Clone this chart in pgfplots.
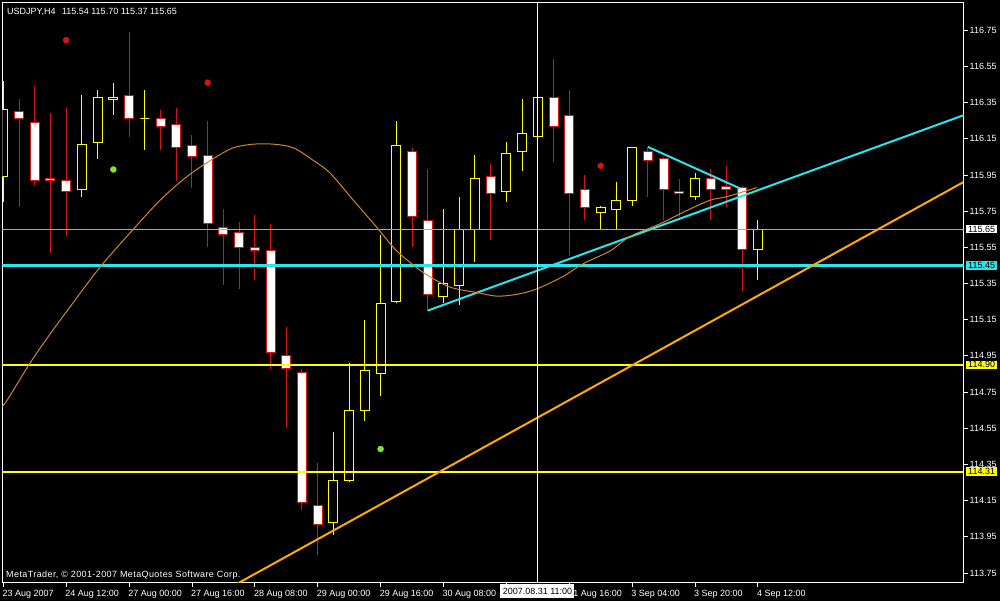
\documentclass[border=0pt]{standalone}
\usepackage{pgfplots}
\usepackage{pgfplotstable}
\usepackage{fontspec}
\setmainfont{Liberation Sans}
\pgfplotsset{compat=1.18}

\definecolor{mtyellow}{RGB}{255,255,0}
\definecolor{mtred}{RGB}{215,20,20}
\definecolor{mtcyan}{RGB}{40,230,235}
\definecolor{mtorange}{RGB}{255,170,0}
\definecolor{mtbrown}{RGB}{205,135,45}
\definecolor{mtgray}{RGB}{170,170,170}
\definecolor{mtlime}{RGB}{130,230,40}

% USDJPY H4: bar, open, high, low, close
\pgfplotstableread{
i o h l c
0 115.94 116.47 115.80 116.31
1 116.30 116.37 115.77 116.26
2 116.24 116.44 115.89 115.92
3 115.93 116.29 115.52 115.92
4 115.92 116.32 115.61 115.86
5 115.87 116.39 115.83 116.12
6 116.13 116.42 116.04 116.38
7 116.365 116.46 116.28 116.38
8 116.39 116.74 116.16 116.26
9 116.26 116.42 116.09 116.26
10 116.26 116.31 116.09 116.22
11 116.23 116.32 115.92 116.10
12 116.11 116.17 115.88 116.05
13 116.06 116.25 115.55 115.68
14 115.66 115.76 115.34 115.62
15 115.63 115.69 115.32 115.55
16 115.55 115.73 115.37 115.53
17 115.53 115.68 114.88 114.97
18 114.95 115.11 114.55 114.88
19 114.86 114.88 114.10 114.14
20 114.12 114.36 113.85 114.02
21 114.03 114.53 113.96 114.26
22 114.26 114.91 114.25 114.65
23 114.65 115.15 114.59 114.87
24 114.85 115.62 114.73 115.24
25 115.25 116.25 115.24 116.11
26 116.08 116.10 115.55 115.72
27 115.70 115.98 115.20 115.29
28 115.28 115.76 115.24 115.35
29 115.34 115.83 115.23 115.65
30 115.65 116.06 115.47 115.93
31 115.94 116.01 115.59 115.85
32 115.86 116.13 115.80 116.07
33 116.08 116.37 115.97 116.18
34 116.16 116.38 116.15 116.38
35 116.38 116.59 116.02 116.22
36 116.28 116.42 115.50 115.85
37 115.87 115.95 115.70 115.77
38 115.74 115.78 115.65 115.77
39 115.76 115.91 115.65 115.81
40 115.81 116.10 115.78 116.10
41 116.08 116.10 115.83 116.03
42 116.04 116.05 115.70 115.87
43 115.86 115.93 115.72 115.85
44 115.83 115.96 115.81 115.93
45 115.93 115.98 115.70 115.87
46 115.885 116.00 115.77 115.87
47 115.88 115.89 115.31 115.54
48 115.54 115.70 115.37 115.65
}\bars

\begin{document}
\begin{tikzpicture}[font=\fontsize{9}{10.5}\selectfont]
\useasboundingbox (-2.5pt,-17.3pt) rectangle (997.5pt,582.7pt);
\fill[black] (-5pt,-20pt) rectangle (1000pt,585pt);
\begin{axis}[
  scale only axis, width=961pt, height=580pt,
  xmin=-0.051, xmax=61.08, ymin=113.696, ymax=116.902,
  axis line style={white, line width=0.8pt},
  xtick pos=left, ytick pos=right, yticklabel pos=right,
  tick align=outside, major tick length=4pt,
  tick style={white, line width=0.8pt},
  xtick={0,4,...,48},
  xticklabels={23 Aug 2007, 24 Aug 12:00, 27 Aug 00:00, 27 Aug 16:00, 28 Aug 08:00, 29 Aug 00:00, 29 Aug 16:00, 30 Aug 08:00, {}, 31 Aug 16:00, 3 Sep 04:00, 3 Sep 20:00, 4 Sep 12:00},
  xticklabel style={white, anchor=north west, inner sep=0pt, xshift=-1pt, yshift=-3.8pt},
  ytick={113.75,113.95,114.15,114.35,114.55,114.75,114.95,115.15,115.35,115.55,115.75,115.95,116.15,116.35,116.55,116.75},
  yticklabel style={white, anchor=west, inner sep=0pt, xshift=2pt,
    /pgf/number format/.cd, fixed, fixed zerofill, precision=2, assume math mode=true},
]
% candles
\pgfplotstablegetrowsof{\bars}
\pgfmathtruncatemacro{\lastrow}{\pgfplotsretval-1}
\pgfplotsforeachungrouped \k in {0,...,\lastrow}{%
  \pgfplotstablegetelem{\k}{i}\of\bars \let\bi\pgfplotsretval
  \pgfplotstablegetelem{\k}{o}\of\bars \let\bo\pgfplotsretval
  \pgfplotstablegetelem{\k}{h}\of\bars \let\bh\pgfplotsretval
  \pgfplotstablegetelem{\k}{l}\of\bars \let\bl\pgfplotsretval
  \pgfplotstablegetelem{\k}{c}\of\bars \let\bc\pgfplotsretval
  \ifdim\bc pt<\bo pt \def\wc{mtred}\def\fc{white}\else \def\wc{mtyellow}\def\fc{black}\fi
  \edef\temp{\noexpand\draw[\wc, line width=1pt] (axis cs:\bi,\bl) -- (axis cs:\bi,\bh);
    \noexpand\filldraw[draw=\wc, fill=\fc, line width=1pt] ([xshift=-4.5pt]axis cs:\bi,\bo) rectangle ([xshift=4.5pt]axis cs:\bi,\bc);}%
  \temp
}
% horizontal levels
\addplot[mtgray, line width=0.8pt] coordinates {(-1,115.65) (62,115.65)};
\addplot[mtcyan, line width=3pt] coordinates {(-1,115.45) (62,115.45)};
\addplot[mtyellow, line width=2pt] coordinates {(-1,114.90) (62,114.90)};
\addplot[mtyellow, line width=2pt] coordinates {(-1,114.31) (62,114.31)};
% trend lines
\addplot[mtorange, line width=2pt] coordinates {(10,113.456) (65,116.099)};
\addplot[mtcyan, line width=2pt] coordinates {(27.0,115.20) (65,116.404)};
\addplot[mtcyan, line width=2pt] coordinates {(41.0,116.105) (46.87,115.875)};
% indicator curve
\addplot[mtbrown, line width=1pt, smooth, tension=0.5] coordinates {
 (-0.2,114.66) (0.21,114.70) (1.70,114.91) (2.97,115.07) (4.24,115.22) (6.15,115.44)
 (8.27,115.65) (9.97,115.81) (11.67,115.94) (13.36,116.04) (14.63,116.10) (15.91,116.12)
 (17.18,116.12) (18.45,116.10) (19.72,116.03) (20.79,115.96) (22.27,115.81) (23.76,115.66)
 (25.03,115.53) (26.72,115.41) (28.42,115.33) (30.12,115.30) (31.39,115.28) (32.67,115.29)
 (33.94,115.32) (35.63,115.39) (36.90,115.46) (38.60,115.53) (39.87,115.61) (41.78,115.68)
 (43.40,115.75) (44.96,115.81) (46.03,115.83) (47.94,115.88)};
% fractal dots
\addplot[only marks, mark=*, mark size=3pt, mtred] coordinates {(4,116.695) (13,116.46) (38,116.00)};
\addplot[only marks, mark=*, mark size=3pt, mtlime] coordinates {(7,115.98) (24,114.435)};
% crosshair
\addplot[white, line width=1.5pt] coordinates {(33.98,113.5) (33.98,117.1)};
\coordinate (p65) at (axis cs:61.08,115.65);
\coordinate (p45) at (axis cs:61.08,115.45);
\coordinate (p90) at (axis cs:61.08,114.90);
\coordinate (p31) at (axis cs:61.08,114.31);
\coordinate (cx) at (axis cs:33.98,113.696);
\end{axis}
\tikzset{lbl/.style={anchor=west, text=black, inner xsep=2pt, inner ysep=1pt, xshift=2.5pt}}
\node[lbl, fill=white] at (p65) {115.65};
\node[lbl, fill=mtcyan] at (p45) {115.45};
\node[lbl, fill=mtyellow] at (p90) {114.90};
\node[lbl, fill=mtyellow] at (p31) {114.31};
\node[anchor=north, fill=white, text=black, inner sep=0pt, minimum width=74pt, minimum height=14.5pt, yshift=-1pt] at (cx) {2007.08.31 11:00};
\node[anchor=west, text=white, inner sep=0pt] at (4.5pt,570.8pt) {USDJPY,H4\hspace{4pt} 115.54 115.70 115.37 115.65};
\node[anchor=west, text=white, inner sep=0pt] at (3.5pt,7.7pt) {\addfontfeatures{LetterSpace=4.5}MetaTrader, © 2001-2007 MetaQuotes Software Corp.};
\end{tikzpicture}
\end{document}
